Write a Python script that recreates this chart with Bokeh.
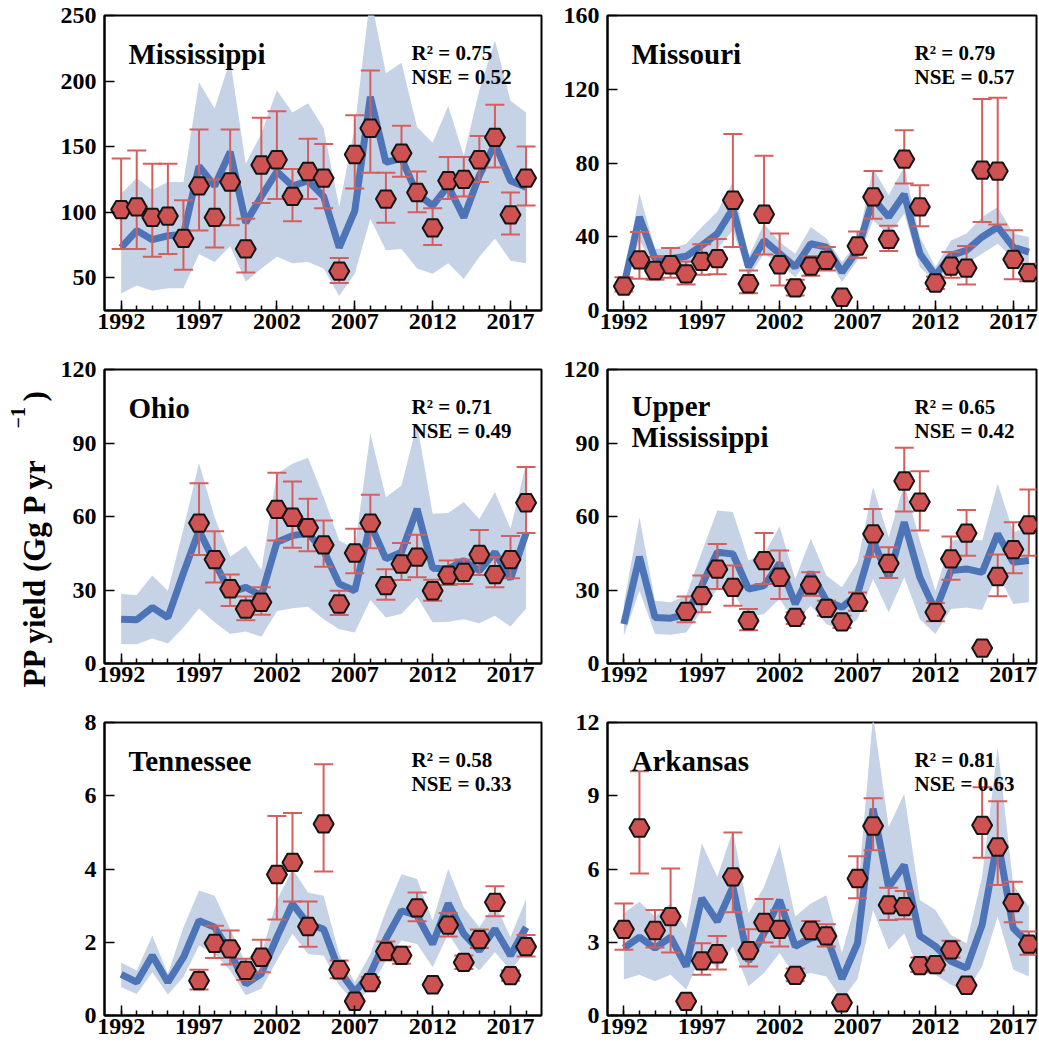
import math
from bokeh.plotting import figure
from bokeh.layouts import row, column
from bokeh.models import FixedTicker, Range1d, Label, ColumnDataSource
from bokeh.embed import file_html
from bokeh.resources import INLINE

NaN = float("nan")
years = list(range(1992, 2019))
x_major = [1992, 1997, 2002, 2007, 2012, 2017]

# ---------------- Mississippi ----------------
miss_obs_years = list(range(1992, 2019))
miss_obs = [102, 104, 96, 97, 80, 120, 96, 123, 72, 136, 140, 112, 131, 126, 55, 144, 164, 110, 145, 115, 88, 124, 125, 140, 157, 98, 126]
miss_obs_hi = [141, 147, 137, 137, 109, 163, 125, 163, 95, 172, 177, 133, 156, 152, 65, 174, 208, 130, 166, 131, 103, 142, 142, 158, 182, 115, 150]
miss_obs_lo = [72, 72, 66, 68, 56, 86, 73, 90, 54, 107, 110, 93, 110, 103, 46, 118, 130, 92, 127, 100, 75, 110, 112, 123, 134, 83, 105]
miss_sim = [73, 86, 79, 82, 83, 135, 120, 146, 92, 112, 131, 120, 124, 112, 73, 101, 188, 138, 141, 114, 105, 120, 96, 128, 152, 124, 119]
miss_sim_hi = [114, 126, 117, 123, 123, 199, 179, 216, 137, 160, 193, 176, 183, 164, 104, 165, 265, 206, 214, 165, 153, 181, 143, 193, 231, 185, 176]
miss_sim_lo = [38, 44, 40, 42, 42, 68, 62, 74, 47, 57, 66, 61, 62, 57, 36, 53, 95, 71, 72, 57, 53, 61, 49, 66, 80, 63, 61]

# ---------------- Missouri ----------------
mo_obs_years = list(range(1992, 2019))
mo_obs = [13.2, 27.5, 21.7, 24.8, 19.9, 26.6, 28.1, 59.8, 14.5, 52.2, 24.8, 12.3, 24.1, 27.2, 7.2, 35.0, 61.6, 38.6, 82.1, 56.2, 14.9, 24.1, 23.0, 76.1, 75.6, 27.7, 20.5]
mo_obs_hi = [18.1, 42.6, 29, 33.9, 26.6, 35.9, 38.8, 95.7, 21.7, 83.9, 41.7, 16.7, 29.4, 34.4, NaN, 42.9, 75.6, 46, 97.8, 67.9, 18.5, 31.7, 35, 114.7, 115.4, 43.5, 25.4]
mo_obs_lo = [10.3, 17.2, 16.7, 17.8, 14.1, 19.4, 19.6, 34.4, 9.4, 30.4, 13.6, 8.2, 18.8, 21.7, NaN, 28.6, 49.8, 32.3, 68.9, 45.7, 11.6, 17.8, 14.1, 48, 46.6, 17, 15.9]
mo_sim = [13.6, 50.7, 28.1, 28.1, 29.4, 35.3, 41.7, 55.3, 23.6, 38, 30.8, 23.6, 36.2, 34.4, 20.8, 32.6, 60.7, 50.7, 63.1, 30.8, 19, 29.9, 32.6, 39.9, 45.3, 34.4, 31.7]
mo_sim_hi = [18.1, 63.4, 33.5, 33.5, 36.2, 45.3, 53.5, 69.8, 29, 47.1, 37.1, 30.8, 45.3, 39, 26.3, 37.1, 77, 62.5, 77.9, 39.9, 23.6, 38, 41.7, 50.7, 56.2, 41.7, 39.9]
mo_sim_lo = [10.9, 38, 23.6, 23.6, 24.5, 29, 33.5, 43.5, 18.1, 30.8, 25.4, 18.1, 29, 29, 15.4, 27.2, 48.9, 40.8, 52.5, 23.6, 15.4, 23.6, 25.4, 30.8, 36.2, 28.1, 25.4]

# ---------------- Ohio ----------------
oh_obs_years = list(range(1997, 2019))
oh_obs = [57.3, 42.4, 30.5, 22.2, 25, 62.9, 59.7, 55.4, 48.4, 24.3, 45.1, 57.3, 31.8, 40.6, 43.4, 29.7, 36.1, 37.2, 44.5, 36.3, 42.4, 65.6]
oh_obs_hi = [73.6, 54, 36.3, 27.3, 31.1, 77.9, 74.3, 67.2, 58.4, 29.7, 55, 68.9, 38.5, 49.2, 52.6, 34.2, 42, 42.5, 54.5, 43.4, 52, 80.2]
oh_obs_lo = [44.3, 33.1, 23.5, 17.7, 19.9, 50.2, 47.2, 45.8, 39.5, 19.8, 36.8, 47, 26, 34.1, 35.2, 25.6, 32, 32.5, 36.1, 31.1, 34.8, 53.3]
oh_sim = [18.1, 17.9, 22.9, 18.8, 37, 54.3, 41.3, 29, 31.1, 27.7, 49.5, 52.2, 53.2, 46.1, 32.5, 29.7, 57, 42.7, 45.4, 63.1, 38.9, 38.6, 42, 37.9, 45.4, 34.5, 53.2]
oh_sim_hi = [28.4, 28, 35.9, 29.7, 55, 81.8, 59.7, 43.6, 48.1, 38.2, 77.5, 81.5, 84, 67.9, 50.2, 46.8, 93.8, 67.9, 72.7, 97.9, 61.1, 61.4, 65.9, 59, 70, 55, 81.5]
oh_sim_lo = [7.9, 7.9, 10.2, 8.2, 14.7, 22.5, 16.8, 12, 13.1, 10.9, 21.3, 22.6, 23.2, 18.1, 14, 12.7, 25.9, 18.8, 20.2, 27, 16.8, 17, 18.1, 16.4, 19.5, 15.1, 22.5]

# ---------------- Upper Mississippi ----------------
um_obs_years = list(range(1996, 2019))
um_obs = [21.3, 27.7, 38.5, 31.1, 17.5, 42, 35.2, 18.8, 32, 22.5, 17, 25, 52.9, 40.9, 74.5, 65.9, 20.9, 42.7, 53.2, 6.3, 35.5, 46.5, 56.6]
um_obs_hi = [27.3, 35.9, 48.8, 40, 22.2, 53.3, 46.1, 20.9, 37.2, 25.6, 19.5, 29, 63.1, 47.5, 88.1, 78.5, 24.7, 51.8, 62.7, NaN, 44.5, 57.7, 71]
um_obs_lo = [16.8, 20.9, 30.4, 23.6, 13.6, 32.5, 26.3, 16.1, 27.7, 19.5, 14.5, 21.5, 43.6, 34.9, 62, 54.3, 17.2, 34.2, 44, NaN, 27.4, 36.8, 44]
um_sim = [16.1, 43.6, 18.8, 18.5, 20.2, 31.8, 45.4, 44.7, 30.4, 31.8, 40.9, 24.3, 37.2, 25.6, 22.9, 28.4, 50.2, 35.2, 57.7, 35.2, 21.5, 37.9, 38.6, 37.2, 52.9, 41.3, 42]
um_sim_hi = [24.3, 59.7, 25.6, 25, 27.7, 45.4, 62.5, 61.8, 42, 44.7, 55.9, 34.5, 50.9, 35.9, 31.1, 41.3, 72, 51.5, 73.4, 50.2, 29.7, 50.2, 50.9, 50.2, 73.4, 53.6, 55.6]
um_sim_lo = [11.3, 29.7, 12, 11.7, 12.7, 21.5, 30.4, 29, 18.8, 20.2, 26.3, 16.8, 23.6, 16.1, 13.6, 18.1, 34.5, 20.9, 35.2, 18.1, 12, 22.2, 22.9, 21.8, 36.5, 24.3, 25]

# ---------------- Tennessee ----------------
tn_obs_years = list(range(1997, 2019))
tn_obs = [0.95, 1.97, 1.82, 1.23, 1.59, 3.85, 4.18, 2.43, 5.23, 1.25, 0.39, 0.9, 1.75, 1.64, 2.94, 0.84, 2.47, 1.45, 2.07, 3.09, 1.09, 1.88]
tn_obs_hi = [1.25, 2.45, 2.32, 1.55, 2.07, 5.45, 5.53, 3.11, 6.86, 1.5, NaN, 1.05, 2.02, 1.88, 3.36, 0.9, 2.8, 1.64, 2.35, 3.53, 1.23, 2.2]
tn_obs_lo = [0.71, 1.57, 1.39, 0.97, 1.18, 2.62, 3.11, 1.88, 3.93, 1.02, NaN, 0.77, 1.5, 1.41, 2.57, 0.78, 2.16, 1.27, 1.84, 2.71, 0.95, 1.61]
tn_sim = [1.12, 0.91, 1.64, 0.91, 1.59, 2.59, 2.41, 1.73, 0.86, 1.14, 2.14, 3.05, 2.5, 2.36, 1.23, 0.64, 1.14, 2.09, 2.86, 2.73, 1.95, 3.06, 2.23, 1.77, 2.36, 1.64, 2.41]
tn_sim_hi = [1.45, 1.23, 2.18, 1.14, 2.41, 3.41, 3.27, 2.36, 1.41, 1.68, 3.14, 4.0, 3.36, 3.27, 1.68, 0.91, 1.68, 2.86, 3.86, 3.73, 2.59, 4.0, 2.95, 2.41, 3.05, 2.14, 3.18]
tn_sim_lo = [0.77, 0.59, 1.18, 0.57, 1.05, 1.91, 1.68, 1.23, 0.55, 0.73, 1.5, 2.23, 1.68, 1.64, 0.82, 0.36, 0.73, 1.5, 2.05, 1.95, 1.32, 2.23, 1.59, 1.23, 1.73, 1.23, 1.77]

# ---------------- Arkansas ----------------
ar_obs_years = list(range(1992, 2019))
ar_obs = [3.53, 7.68, 3.48, 4.05, 0.58, 2.24, 2.53, 5.68, 2.66, 3.81, 3.53, 1.64, 3.48, 3.26, 0.52, 5.61, 7.76, 4.53, 4.46, 2.04, 2.08, 2.69, 1.24, 7.79, 6.9, 4.62, 2.92]
ar_obs_hi = [4.59, 10.0, 4.32, 6.02, NaN, 2.96, 3.26, 7.49, 3.53, 4.77, 4.32, 1.92, 3.87, 3.74, NaN, 6.52, 8.9, 5.23, 5.1, 2.38, 2.3, 3.06, NaN, 9.35, 8.77, 5.48, 3.44]
ar_obs_lo = [2.69, 5.82, 2.79, 2.58, NaN, 1.67, 1.88, 4.23, 2.01, 2.99, 2.83, 1.4, 3.13, 2.83, NaN, 4.8, 6.77, 3.91, 3.94, 1.78, 1.85, 2.38, NaN, 6.46, 5.34, 3.82, 2.49]
ar_sim = [2.76, 3.21, 2.76, 3.21, 2.01, 4.8, 3.85, 5.27, 2.22, 3.37, 4.73, 2.83, 3.17, 3.26, 1.5, 2.96, 8.47, 5.25, 6.16, 3.26, 2.83, 2.22, 1.94, 3.71, 7.2, 3.57, 2.96]
ar_sim_hi = [4.19, 4.66, 4.05, 4.59, 3.57, 7.04, 5.68, 7.58, 4.19, 5.27, 6.97, 4.05, 4.59, 4.93, 2.56, 4.87, 12.3, 7.72, 9.08, 4.73, 4.32, 3.3, 2.96, 5.68, 10.98, 5.34, 4.46]
ar_sim_lo = [1.47, 1.67, 1.4, 1.67, 1.06, 2.49, 1.94, 2.83, 1.2, 1.74, 2.56, 1.6, 1.74, 1.6, 0.65, 1.5, 4.32, 2.69, 3.37, 1.74, 1.67, 1.26, 0.99, 2.01, 4.05, 1.88, 1.6]

# panel names and statistics
region_names = [["Mississippi"], ["Missouri"], ["Ohio"], ["Upper", "Mississippi"], ["Tennessee"], ["Arkansas"]]
r2_values = ["0.75", "0.79", "0.71", "0.65", "0.58", "0.81"]
nse_values = ["0.52", "0.57", "0.49", "0.42", "0.33", "0.63"]
y_tick_sets = [[50, 100, 150, 200, 250], [0, 40, 80, 120, 160], [0, 30, 60, 90, 120],
               [0, 30, 60, 90, 120], [0, 2, 4, 6, 8], [0, 3, 6, 9, 12]]
y_limits = [(25, 250), (0, 160), (0, 120), (0, 120), (0, 8), (0, 12)]
y_label_main = "PP yield (Gg P yr"
y_label_sup = "\u22121"
y_label_end = ")"

FONT = "Liberation Serif"
BAND = "#c6d2e6"
LINE = "#4e74b8"
ERR = "#d35f5f"
MARK = "#cf5252"

LAB_W = 56
LEFT_W, RIGHT_W = 495, 487
LEFT_B = [48, 56]
RIGHT_B = [10, 2]
ROW_H = [340, 353, 350]
ROW_TOP = [15, 29, 29]
ROW_BOT = [30, 30, 28]


def make_panel(idx, sim, sim_lo, sim_hi, oyears, obs, obs_lo, obs_hi):
    col = idx % 2
    r = idx // 2
    width = LEFT_W if col == 0 else RIGHT_W
    height = ROW_H[r]
    b_left = LEFT_B[col]
    b_right = RIGHT_B[col]
    b_top = ROW_TOP[r]
    b_bot = ROW_BOT[r]
    xr = (1990.93, 2018.99) if col == 0 else (1990.95, 2018.49)
    yr = y_limits[idx]
    p = figure(width=width, height=height, x_range=Range1d(*xr), y_range=Range1d(*yr),
               toolbar_location=None, output_backend="svg",
               min_border=0, min_border_left=b_left, min_border_right=b_right,
               min_border_top=b_top, min_border_bottom=b_bot)
    p.xgrid.visible = False
    p.ygrid.visible = False
    p.outline_line_color = "black"
    p.outline_line_width = 2
    p.background_fill_color = "white"
    p.border_fill_color = "white"

    p.xaxis.ticker = FixedTicker(ticks=x_major, minor_ticks=years)
    p.yaxis.ticker = FixedTicker(ticks=y_tick_sets[idx], minor_ticks=[])
    for ax in (p.xaxis[0], p.yaxis[0]):
        ax.axis_line_width = 2
        ax.axis_line_color = "black"
        ax.major_tick_in = 10
        ax.major_tick_out = 0
        ax.minor_tick_in = 5
        ax.minor_tick_out = 0
        ax.major_tick_line_width = 1.5
        ax.minor_tick_line_width = 1.5
        ax.major_tick_line_color = "black"
        ax.minor_tick_line_color = "black"
        ax.major_label_text_font = FONT
        ax.major_label_text_font_style = "bold"
        ax.major_label_text_font_size = "24px"
        ax.major_label_text_color = "black"
    p.xaxis.major_label_standoff = 3
    p.yaxis.major_label_standoff = 8

    # simulated uncertainty band and line
    p.varea(x=years, y1=sim_lo, y2=sim_hi, fill_color=BAND, fill_alpha=1.0)
    p.line(x=years, y=sim, line_color=LINE, line_width=7)

    # observed with error bars
    src = ColumnDataSource(dict(x=oyears, y=obs, lo=obs_lo, hi=obs_hi))
    p.segment(x0="x", y0="lo", x1="x", y1="hi", source=src, line_color=ERR, line_width=2)
    p.scatter(x="x", y="hi", source=src, marker="dash", size=19, line_color=ERR, line_width=2)
    p.scatter(x="x", y="lo", source=src, marker="dash", size=19, line_color=ERR, line_width=2)
    p.scatter(x="x", y="y", source=src, marker="hex", size=20,
              fill_color=MARK, line_color="#151515", line_width=2)

    # annotation positions (pixel offsets inside frame -> data coords)
    fw = width - b_left - b_right
    fh = height - b_top - b_bot

    def dx(px):
        return xr[0] + px / fw * (xr[1] - xr[0])

    def dy(px):
        return yr[1] - px / fh * (yr[1] - yr[0])

    names = region_names[idx]
    if len(names) == 1:
        p.add_layout(Label(x=dx(24), y=dy(38), text=names[0], text_font=FONT, text_font_style="bold",
                           text_font_size="29px", text_color="black", text_baseline="alphabetic"))
    else:
        p.add_layout(Label(x=dx(24), y=dy(36), text=names[0], text_font=FONT, text_font_style="bold",
                           text_font_size="29px", text_color="black", text_baseline="alphabetic"))
        p.add_layout(Label(x=dx(24), y=dy(67), text=names[1], text_font=FONT, text_font_style="bold",
                           text_font_size="29px", text_color="black", text_baseline="alphabetic"))
    p.add_layout(Label(x=dx(307), y=dy(37), text="R\u00b2 = " + r2_values[idx], text_font=FONT,
                       text_font_style="bold", text_font_size="21px", text_color="black",
                       text_baseline="alphabetic"))
    p.add_layout(Label(x=dx(307), y=dy(61), text="NSE = " + nse_values[idx], text_font=FONT,
                       text_font_style="bold", text_font_size="21px", text_color="black",
                       text_baseline="alphabetic"))
    return p


p1 = make_panel(0, miss_sim, miss_sim_lo, miss_sim_hi, miss_obs_years, miss_obs, miss_obs_lo, miss_obs_hi)
p2 = make_panel(1, mo_sim, mo_sim_lo, mo_sim_hi, mo_obs_years, mo_obs, mo_obs_lo, mo_obs_hi)
p3 = make_panel(2, oh_sim, oh_sim_lo, oh_sim_hi, oh_obs_years, oh_obs, oh_obs_lo, oh_obs_hi)
p4 = make_panel(3, um_sim, um_sim_lo, um_sim_hi, um_obs_years, um_obs, um_obs_lo, um_obs_hi)
p5 = make_panel(4, tn_sim, tn_sim_lo, tn_sim_hi, tn_obs_years, tn_obs, tn_obs_lo, tn_obs_hi)
p6 = make_panel(5, ar_sim, ar_sim_lo, ar_sim_hi, ar_obs_years, ar_obs, ar_obs_lo, ar_obs_hi)

# shared y-axis title (vertical, reading upward) in a narrow side figure
total_h = sum(ROW_H)
lab = figure(width=LAB_W, height=total_h, x_range=Range1d(0, LAB_W), y_range=Range1d(0, total_h),
             toolbar_location=None, output_backend="svg", min_border=0,
             x_axis_location=None, y_axis_location=None)
lab.xgrid.visible = False
lab.ygrid.visible = False
lab.outline_line_color = None
lab.add_layout(Label(x=34, y=total_h - 687, text=y_label_main, angle=math.pi / 2,
                     text_font=FONT, text_font_style="bold", text_font_size="31px",
                     text_color="black", text_align="left", text_baseline="middle"))
lab.add_layout(Label(x=17, y=total_h - 428, text=y_label_sup, angle=math.pi / 2,
                     text_font=FONT, text_font_style="bold", text_font_size="20px",
                     text_color="black", text_align="left", text_baseline="middle"))
lab.add_layout(Label(x=34, y=total_h - 401, text=y_label_end, angle=math.pi / 2,
                     text_font=FONT, text_font_style="bold", text_font_size="31px",
                     text_color="black", text_align="left", text_baseline="middle"))

grid = column(row(p1, p2), row(p3, p4), row(p5, p6))
layout = row(lab, grid)

open("out.html", "w").write(file_html(layout, INLINE))
